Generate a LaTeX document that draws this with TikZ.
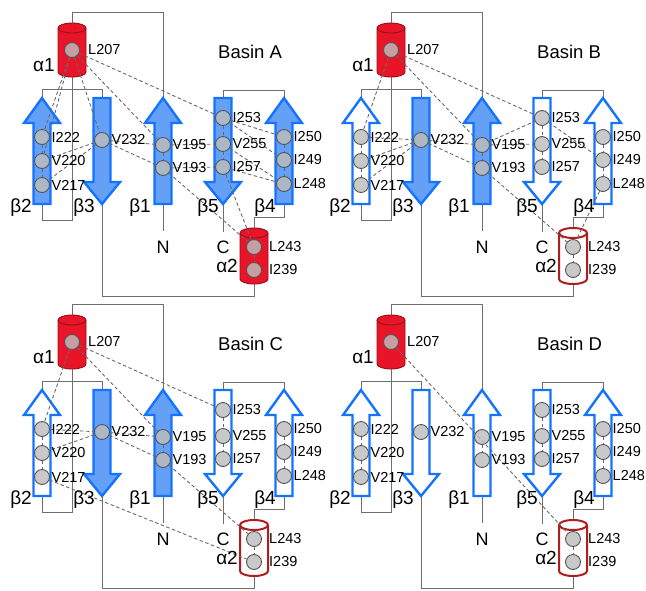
\documentclass[tikz,border=0pt]{standalone}
\usepackage{fontspec}
\setmainfont{Liberation Sans}
\definecolor{bluefill}{RGB}{100,160,245}
\definecolor{blueedge}{RGB}{20,115,255}
\definecolor{redfill}{RGB}{232,20,40}
\definecolor{reddark}{RGB}{150,15,25}
\definecolor{cylred}{RGB}{175,30,30}
\definecolor{resfill}{RGB}{190,190,190}
\definecolor{resedge}{RGB}{85,85,85}
\definecolor{linegray}{RGB}{110,110,110}
\definecolor{dashgray}{RGB}{105,105,105}
\pgfdeclarelayer{lay0}\pgfdeclarelayer{lay1}\pgfdeclarelayer{lay2}
\pgfsetlayers{lay0,lay1,lay2,main}
\newcommand\resfont{\fontsize{14.5pt}{16pt}\selectfont}
\newcommand\ssfont{\fontsize{19pt}{22pt}\selectfont}
\newcommand\basinfont{\fontsize{18.5pt}{22pt}\selectfont}
\newcommand\termfont{\fontsize{18pt}{22pt}\selectfont}
\tikzset{
  loopline/.style={draw=linegray, line width=0.9pt},
  contact/.style={draw=dashgray, line width=0.9pt, dash pattern=on 3.5pt off 2.5pt},
  res/.style={circle, draw=resedge, fill=resfill, fill opacity=0.82, draw opacity=1, line width=0.9pt, minimum size=15pt, inner sep=0pt},
  reslabel/.style={anchor=west, inner sep=0pt, font=\resfont},
  sslabel/.style={anchor=east, inner sep=0pt, font=\ssfont},
  termlabel/.style={inner sep=0pt, font=\termfont},
  basinlabel/.style={anchor=west, inner sep=0pt, font=\basinfont},
  strandfilled/.style={fill=bluefill, draw=blueedge, line width=2.4pt, line join=miter},
  strandopen/.style={fill=white, draw=blueedge, line width=2.4pt, line join=miter},
  helixfilled/.style={fill=redfill, draw=reddark, line width=0.9pt},
  helixopen/.style={fill=white, draw=cylred, line width=2pt},
}
% up arrow: #1 style, #2 cx, #3 name
\newcommand\uparr[3]{%
  \coordinate (#3tip) at (#2,-98);
  \coordinate (#3bot) at (#2,-204);
  \begin{pgfonlayer}{lay1}
  \path[#1] (#2-8.5,-204) -- (#2-8.5,-123) -- (#2-18,-123) -- (#3tip) -- (#2+18,-123) -- (#2+8.5,-123) -- (#2+8.5,-204) -- cycle;
  \end{pgfonlayer}}
% down arrow
\newcommand\downarr[3]{%
  \coordinate (#3top) at (#2,-98);
  \coordinate (#3tip) at (#2,-204);
  \begin{pgfonlayer}{lay1}
  \path[#1] (#2-8.5,-98) -- (#2+8.5,-98) -- (#2+8.5,-182) -- (#2+18,-182) -- (#3tip) -- (#2-18,-182) -- (#2-8.5,-182) -- cycle;
  \end{pgfonlayer}}
% cylinder: #1 style, #2 cx, #3 top centre y, #4 bottom centre y, #5 name
\newcommand\cyl[5]{%
  \coordinate (#5top) at (#2,-#3+5);
  \coordinate (#5bot) at (#2,-#4-5);
  \begin{pgfonlayer}{lay1}
  \path[#1] (#2-14,-#3) -- (#2-14,-#4) arc[start angle=180,end angle=360,x radius=14pt,y radius=5pt] -- (#2+14,-#3) arc[start angle=0,end angle=180,x radius=14pt,y radius=5pt] -- cycle;
  \draw[#1,fill=none] (#2-14,-#3) arc[start angle=180,end angle=360,x radius=14pt,y radius=5pt];
  \end{pgfonlayer}}
% residue: #1 node name, #2 x, #3 y, #4 label x, #5 text
\newcommand\resi[5]{%
  \node[res] (#1) at (#2,-#3) {};
  \node[reslabel] (#1t) at (#4,-#3) {#5};}
% panel: #1 prefix, #2 ox, #3 oy, #4 letter
\newcommand\basinpanel[4]{%
\begin{scope}[shift={(#2,-#3)}]
  \uparr{sb1}{163}{#1b1}
  \uparr{sb2}{42}{#1b2}
  \downarr{sb3}{102}{#1b3}
  \uparr{sb4}{284}{#1b4}
  \downarr{sb5}{223}{#1b5}
  \cyl{helixfilled}{72}{28}{72}{#1a1}
  \cyl{sa2}{254}{233}{279}{#1a2}
  \coordinate (#1Nend) at (163,-231);
  \coordinate (#1Cend) at (223,-232);
  \begin{pgfonlayer}{lay0}
  \draw[loopline] (#1b1bot) -- (#1Nend);
  \draw[loopline] (#1b1tip) -- (#1b1tip |- 0,-12) -| (#1a1top);
  \draw[loopline] (#1a1bot) -- (#1a1bot |- 0,-220) -| (#1b2bot);
  \draw[loopline] (#1b2tip) -- (#1b2tip |- 0,-89) -| (#1b3top);
  \draw[loopline] (#1b3tip) -- (#1b3tip |- 0,-296) -| (#1a2bot);
  \draw[loopline] (#1a2top) -- (#1a2top |- 0,-217) -| (#1b4bot);
  \draw[loopline] (#1b4tip) -- (#1b4tip |- 0,-90) -| (#1b5top);
  \draw[loopline] (#1b5tip) -- (#1Cend);
  \end{pgfonlayer}
  \resi{#1L207}{72}{50}{88}{L207}
  \resi{#1I222}{42}{137}{51.5}{I222}
  \resi{#1V220}{42}{161}{51.5}{V220}
  \resi{#1V217}{42}{185}{51.5}{V217}
  \resi{#1V232}{102}{140}{111.5}{V232}
  \resi{#1V195}{163}{145}{172.5}{V195}
  \resi{#1V193}{163}{168}{172.5}{V193}
  \resi{#1I253}{223}{118}{232.5}{I253}
  \resi{#1V255}{223}{144}{232.5}{V255}
  \resi{#1I257}{223}{167}{232.5}{I257}
  \resi{#1I250}{284}{137}{293.5}{I250}
  \resi{#1I249}{284}{160}{293.5}{I249}
  \resi{#1L248}{284}{184}{293.5}{L248}
  \resi{#1L243}{254}{247}{269}{L243}
  \resi{#1I239}{254}{270}{269}{I239}
  \begin{pgfonlayer}{lay2}
  \draw[contact] (#1I222) -- (#1V220) -- (#1V217);
  \draw[contact] (#1V195) -- (#1V193);
  \draw[contact] (#1I253) -- (#1V255) -- (#1I257);
  \draw[contact] (#1I250) -- (#1I249) -- (#1L248);
  \draw[contact] (#1L243) -- (#1I239);
  \end{pgfonlayer}
  \node[sslabel] (#1a1lab) at (55,-65) {α1};
  \node[sslabel] (#1b2lab) at (32,-208) {β2};
  \node[sslabel] (#1b3lab) at (95,-208) {β3};
  \node[sslabel] (#1b1lab) at (151,-208) {β1};
  \node[sslabel] (#1b5lab) at (219,-208) {β5};
  \node[sslabel] (#1b4lab) at (276,-208) {β4};
  \node[sslabel] (#1a2lab) at (238,-266) {α2};
  \node[termlabel] (#1N) at (163,-247) {N};
  \node[termlabel] (#1C) at (223,-247) {C};
  \node[basinlabel] (#1title) at (218,-52) {Basin #4};
\end{scope}}
\newcommand\contacts[2]{%
  \begin{pgfonlayer}{lay2}
  \foreach \ca/\cb in {#2} { \draw[contact] (#1\ca) -- (#1\cb); }
  \end{pgfonlayer}}

\begin{document}
\begin{tikzpicture}[x=1pt,y=1pt]
  \useasboundingbox (0,0) rectangle (646,-590);
  % Basin A
  \tikzset{sb1/.style=strandfilled, sb2/.style=strandfilled, sb3/.style=strandfilled,
           sb4/.style=strandfilled, sb5/.style=strandfilled, sa2/.style=helixfilled}
  \basinpanel{A}{0}{0}{A}
  \contacts{A}{L207/I222, L207/V220, L207/V232, L207/V195, L207/I253,
    V232/V220, V232/V217, V232/V195, V232/V193,
    V195/V255, V193/I257, V193/L243,
    I253/I250, I253/I249, V255/L248, I257/L248, I257/L243}
  % Basin B
  \tikzset{sb1/.style=strandfilled, sb2/.style=strandopen, sb3/.style=strandfilled,
           sb4/.style=strandopen, sb5/.style=strandopen, sa2/.style=helixopen}
  \basinpanel{B}{319}{0}{B}
  \contacts{B}{L207/I222, L207/V195, L207/I253,
    I222/V232, V232/V220, V232/V217, V232/V195, V232/V193,
    V195/I253, V195/V255, I253/I249, V193/L243, L248/L243}
  % Basin C
  \tikzset{sb1/.style=strandfilled, sb2/.style=strandopen, sb3/.style=strandfilled,
           sb4/.style=strandopen, sb5/.style=strandopen, sa2/.style=helixopen}
  \basinpanel{C}{0}{292}{C}
  \contacts{C}{L207/I222, L207/V195, L207/I253,
    I222/V232, V232/V220, V232/V195, V232/V193, V193/L243, V217/I239}
  % Basin D
  \tikzset{sb1/.style=strandopen, sb2/.style=strandopen, sb3/.style=strandopen,
           sb4/.style=strandopen, sb5/.style=strandopen, sa2/.style=helixopen}
  \basinpanel{D}{319}{292}{D}
  \contacts{D}{L207/L243}
\end{tikzpicture}
\end{document}
